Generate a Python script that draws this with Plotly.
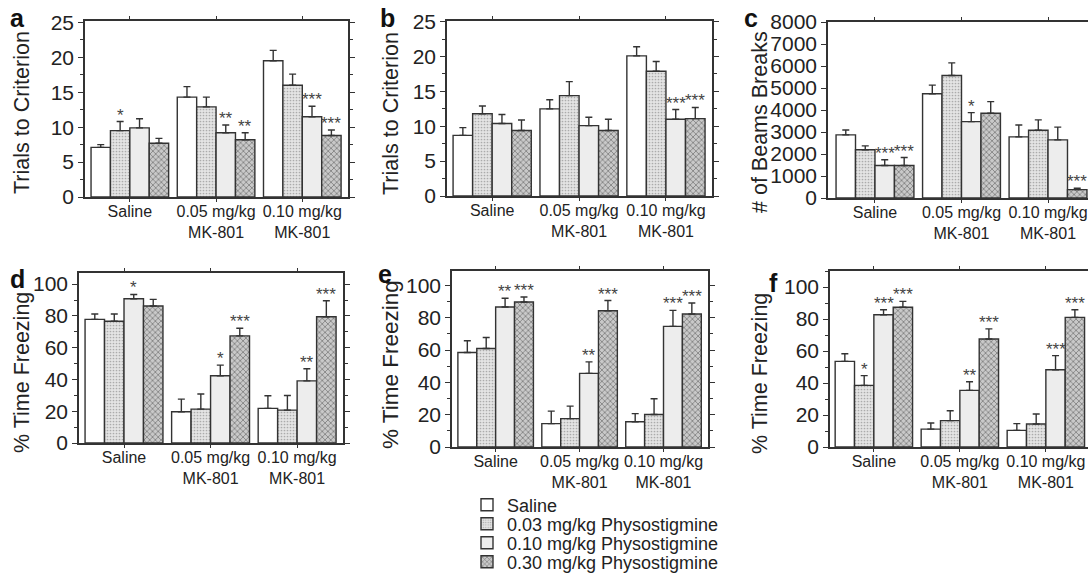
import plotly.graph_objects as go

# ---------------- data ----------------
groups = ["Saline", "0.05 mg/kg<br>MK-801", "0.10 mg/kg<br>MK-801"]
treatments = ["Saline", "0.03 mg/kg Physostigmine",
              "0.10 mg/kg Physostigmine", "0.30 mg/kg Physostigmine"]

# rows = treatment series, columns = MK-801 groups
a_mean = [[7.1, 14.3, 19.5], [9.5, 12.9, 16.0], [9.9, 9.2, 11.5], [7.7, 8.2, 8.8]]
a_sem = [[0.4, 1.5, 1.5], [1.3, 1.4, 1.6], [1.3, 1.1, 1.5], [0.7, 1.0, 0.8]]
a_sig = [["", "", ""], ["*", "", ""], ["", "**", "***"], ["", "**", "***"]]

b_mean = [[8.7, 12.5, 20.1], [11.8, 14.4, 17.9], [10.4, 10.1, 11.0], [9.4, 9.4, 11.1]]
b_sem = [[1.1, 1.3, 1.3], [1.1, 2.0, 1.4], [1.3, 1.2, 1.4], [1.5, 1.6, 1.6]]
b_sig = [["", "", ""], ["", "", ""], ["", "", "***"], ["", "", "***"]]

c_mean = [[2870, 4740, 2780], [2190, 5570, 3080], [1480, 3470, 2640], [1480, 3850, 380]]
c_sem = [[220, 390, 540], [180, 570, 470], [260, 410, 580], [360, 530, 60]]
c_sig = [["", "", ""], ["", "", ""], ["***", "*", ""], ["***", "", "***"]]

d_mean = [[77.8, 19.7, 21.8], [76.6, 21.3, 20.7], [90.8, 42.3, 39.1], [86.2, 67.4, 79.5]]
d_sem = [[3.4, 7.9, 7.9], [4.6, 9.5, 9.2], [2.7, 6.7, 7.6], [4.2, 4.8, 10.0]]
d_sig = [["", "", ""], ["", "", ""], ["*", "*", "**"], ["", "***", "***"]]

e_mean = [[58.5, 14.5, 15.6], [61.0, 17.6, 20.1], [86.7, 45.6, 74.7], [89.8, 84.4, 82.4]]
e_sem = [[7.3, 7.7, 5.1], [6.8, 7.7, 9.8], [5.4, 7.1, 9.9], [3.1, 6.3, 6.8]]
e_sig = [["", "", ""], ["", "", ""], ["**", "**", "***"], ["***", "***", "***"]]

f_mean = [[53.5, 11.2, 10.4], [38.5, 16.5, 14.4], [82.7, 35.4, 48.3], [87.3, 67.5, 81.0]]
f_sem = [[4.8, 3.8, 4.2], [6.1, 6.2, 6.2], [3.1, 5.4, 8.8], [3.7, 6.3, 4.8]]
f_sig = [["", "", ""], ["*", "", ""], ["***", "**", "***"], ["***", "***", "***"]]

y_titles = ["Trials to Criterion", "Trials to Criterion", "# of Beams Breaks",
            "% Time Freezing", "% Time Freezing", "% Time Freezing"]
letters = ["a", "b", "c", "d", "e", "f"]

# ---------------- layout / style ----------------
W, H = 1088, 573
FONT = "Liberation Sans, Arial, Helvetica, sans-serif"
TXT = "#222222"
LINE = "#333333"

# pixel boxes: x0, x1, y_top, y_bottom
boxes = [(85, 348, 21, 197), (447, 712, 21, 196), (828, 1088, 22, 198),
         (79, 343, 273, 443), (452, 708, 271, 447), (830, 1088, 271, 447)]
xranges = [[-0.52, 2.53], [-0.52, 2.53], [-0.543, 2.462],
           [-0.52, 2.53], [-0.52, 2.53], [-0.51, 2.49]]
yranges = [[0, 25.2], [0, 25.1], [0, 8000], [0, 107], [0, 109], [0, 110]]
dticks = [5, 5, 1000, 20, 20, 20]
minor_dt = [2.5, 2.5, None, 10, 10, 10]
right_mirror = [True, True, False, True, True, False]
title_pos = [(22, 113, 21.5), (391, 114, 21.5), (760, 122, 21.5),
             (22, 373, 21.5), (390, 365, 22.5), (760, 374, 21.5)]
letter_pos = [(17, 18), (387, 18), (751, 18), (17, 279), (385, 274), (773, 283)]

styles = [
    dict(color="#ffffff"),
    dict(color="#e2e2e2", pattern=dict(shape=".", fgcolor="#ababab", bgcolor="#e4e4e4",
                                       size=3, solidity=0.25, fillmode="replace")),
    dict(color="#ededed"),
    dict(color="#c0c0c0", pattern=dict(shape="x", fgcolor="#7a7a7a", bgcolor="#c9c9c9",
                                       size=4, solidity=0.35, fillmode="replace")),
]

means = [a_mean, b_mean, c_mean, d_mean, e_mean, f_mean]
sems = [a_sem, b_sem, c_sem, d_sem, e_sem, f_sem]
sigs = [a_sig, b_sig, c_sig, d_sig, e_sig, f_sig]

BARGAP = 0.1
NSER = len(treatments)
bw = (1 - BARGAP) / NSER
xpos = list(range(len(groups)))
legend_ids = ["legend", "legend2", "legend3", "legend4"]

fig = go.Figure()
annotations = []
layout = {}

for p in range(6):
    sfx = "" if p == 0 else str(p + 1)
    xa, ya = "x" + sfx, "y" + sfx
    for s in range(NSER):
        st = styles[s]
        marker = dict(color=st["color"], line=dict(color=LINE, width=1.4))
        if "pattern" in st:
            marker["pattern"] = st["pattern"]
        fig.add_trace(go.Bar(
            x=xpos, y=means[p][s], name=treatments[s],
            marker=marker, xaxis=xa, yaxis=ya,
            error_y=dict(type="data", symmetric=False, array=sems[p][s],
                         arrayminus=[0] * len(xpos), color=LINE, thickness=1.4, width=3.5),
            showlegend=(p == 0), legend=legend_ids[s],
        ))
        for g in range(len(groups)):
            lab = sigs[p][s][g]
            if lab:
                annotations.append(dict(
                    x=g - (1 - BARGAP) / 2 + bw * (s + 0.5), y=means[p][s][g] + sems[p][s][g],
                    xref=xa, yref=ya, text=lab, showarrow=False, yanchor="bottom",
                    yshift=-5, font=dict(family=FONT, size=17, color="#444444")))

    x0, x1, yt, yb = boxes[p]
    layout["xaxis" + sfx] = dict(
        domain=[x0 / W, x1 / W], range=xranges[p], anchor=ya, automargin=False,
        tickvals=xpos, ticktext=groups, ticks="outside", ticklen=3, tickwidth=1.2,
        tickcolor=LINE, showline=True, linecolor=LINE, linewidth=1.6, mirror="ticks",
        showgrid=False, zeroline=False, fixedrange=True, ticklabelstandoff=-4,
        tickfont=dict(family=FONT, size=16, color=TXT))
    ydict = dict(
        domain=[1 - yb / H, 1 - yt / H], range=yranges[p], anchor=xa, automargin=False,
        dtick=dticks[p], tick0=0, ticks="outside", ticklen=5, tickwidth=1.2, tickcolor=LINE,
        showline=True, linecolor=LINE, linewidth=1.6,
        mirror="allticks" if right_mirror[p] else False,
        showgrid=False, zeroline=False, fixedrange=True,
        tickfont=dict(family=FONT, size=21, color=TXT))
    if minor_dt[p]:
        ydict["minor"] = dict(dtick=minor_dt[p], tick0=0, ticks="outside", ticklen=3,
                              tickcolor=LINE, showgrid=False)
    layout["yaxis" + sfx] = ydict

    tx, ty, tsz = title_pos[p]
    annotations.append(dict(x=tx / W, y=1 - ty / H, xref="paper", yref="paper",
                            text=y_titles[p], textangle=-90, showarrow=False,
                            xanchor="center", yanchor="middle",
                            font=dict(family=FONT, size=tsz, color=TXT)))
    lx, ly = letter_pos[p]
    annotations.append(dict(x=lx / W, y=1 - ly / H, xref="paper", yref="paper",
                            text="<b>" + letters[p] + "</b>", showarrow=False,
                            xanchor="center", yanchor="middle",
                            font=dict(family=FONT, size=25, color="#111111")))

legend_rows = [505, 524, 543, 562]
for i, lid in enumerate(legend_ids):
    layout[lid] = dict(x=467 / W, y=1 - legend_rows[i] / H, xref="container", yref="container",
                       xanchor="left", yanchor="middle",
                       bgcolor="rgba(0,0,0,0)", borderwidth=0,
                       font=dict(family=FONT, size=18, color=TXT),
                       itemclick=False, itemdoubleclick=False)

fig.update_layout(
    template="none",
    width=W, height=H, margin=dict(l=0, r=0, t=0, b=0, autoexpand=False),
    paper_bgcolor="white", plot_bgcolor="white",
    barmode="group", bargap=BARGAP, bargroupgap=0,
    annotations=annotations, **layout)

fig.write_html("out.html", config={"displayModeBar": False},
               post_script="document.body.style.margin='0';document.body.style.overflow='hidden';")
